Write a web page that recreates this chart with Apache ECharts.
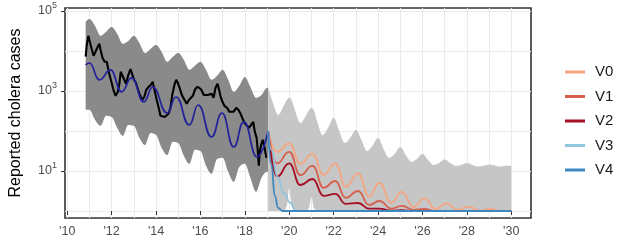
<!DOCTYPE html>
<html><head><meta charset="utf-8">
<script src="https://cdn.jsdelivr.net/npm/echarts@6/dist/echarts.min.js"></script>
<style>html,body{margin:0;padding:0;background:#fff}#c{width:621px;height:244px}</style>
</head><body><div id="c"></div>
<script>
// All case values are stored as log10(reported cholera cases)
const xTickYears = [2010, 2012, 2014, 2016, 2018, 2020, 2022, 2024, 2026, 2028, 2030];
const xGridYears = [2010,2011,2012,2013,2014,2015,2016,2017,2018,2019,2020,2021,2022,2023,2024,2025,2026,2027,2028,2029,2030];
const yTickExp = [1, 3, 5];
const yGridExp = [0, 1, 2, 3, 4, 5];

// Fitted period: 95% band
const darkYears = [2010.83, 2011.0, 2011.25, 2011.5, 2011.75, 2012.0, 2012.25, 2012.5, 2012.75, 2013.0, 2013.25, 2013.5, 2013.75, 2014.0, 2014.25, 2014.5, 2014.75, 2015.0, 2015.25, 2015.5, 2015.75, 2016.0, 2016.25, 2016.5, 2016.75, 2017.0, 2017.25, 2017.5, 2017.75, 2018.0, 2018.25, 2018.5, 2018.75, 2019.0, 2019.05];
const darkUpper = [4.73, 4.80, 4.63, 4.38, 4.48, 4.60, 4.43, 4.18, 4.25, 4.38, 4.20, 3.95, 4.05, 4.15, 3.98, 3.73, 3.85, 3.95, 3.78, 3.53, 3.63, 3.73, 3.53, 3.28, 3.38, 3.53, 3.28, 2.98, 3.13, 3.35, 3.10, 2.83, 2.90, 3.08, 3.08];
const darkLower = [2.53, 2.53, 2.28, 2.13, 2.38, 2.35, 2.08, 1.88, 2.15, 2.13, 1.83, 1.65, 1.95, 1.90, 1.58, 1.40, 1.73, 1.70, 1.38, 1.18, 1.53, 1.50, 1.13, 0.93, 1.30, 1.33, 0.98, 0.73, 1.10, 1.18, 0.83, 0.48, 0.83, 0.98, 0.98];

// Projection period: band
const lightYears = [2019.05, 2019.25, 2019.5, 2019.75, 2019.9, 2020.0, 2020.1, 2020.25, 2020.5, 2020.75, 2020.9, 2021.0, 2021.1, 2021.25, 2021.5, 2021.75, 2022.0, 2022.25, 2022.5, 2022.75, 2023.0, 2023.25, 2023.5, 2023.75, 2024.0, 2024.25, 2024.5, 2024.75, 2025.0, 2025.25, 2025.5, 2025.75, 2026.0, 2026.25, 2026.5, 2026.75, 2027.0, 2027.25, 2027.5, 2027.75, 2028.0, 2028.25, 2028.5, 2028.75, 2029.0, 2029.25, 2029.5, 2029.75, 2030.0];
const lightUpper = [3.08, 2.73, 2.40, 2.63, 2.78, 2.83, 2.78, 2.53, 2.20, 2.38, 2.53, 2.58, 2.53, 2.25, 1.90, 2.08, 2.33, 2.00, 1.70, 1.83, 2.03, 1.78, 1.50, 1.63, 1.83, 1.55, 1.33, 1.43, 1.60, 1.40, 1.23, 1.30, 1.43, 1.28, 1.15, 1.20, 1.29, 1.20, 1.13, 1.15, 1.20, 1.15, 1.11, 1.13, 1.16, 1.14, 1.11, 1.13, 1.13];
const lightLower = [0, 0, 0, 0, 0.15, 0.58, 0.15, 0, 0, 0, 0.10, 0.35, 0.10, 0, 0, 0, 0, 0, 0, 0, 0, 0, 0, 0, 0, 0, 0, 0, 0, 0, 0, 0, 0, 0, 0, 0, 0, 0, 0, 0, 0, 0, 0, 0, 0, 0, 0, 0, 0];

// Observed reported cases
const obsYears = [2010.83, 2010.88, 2010.95, 2011.02, 2011.11, 2011.19, 2011.28, 2011.37, 2011.45, 2011.50, 2011.59, 2011.68, 2011.78, 2011.89, 2011.99, 2012.08, 2012.18, 2012.28, 2012.35, 2012.41, 2012.48, 2012.57, 2012.65, 2012.74, 2012.85, 2012.92, 2013.01, 2013.10, 2013.19, 2013.29, 2013.38, 2013.47, 2013.56, 2013.66, 2013.76, 2013.85, 2013.94, 2014.03, 2014.12, 2014.20, 2014.29, 2014.39, 2014.47, 2014.56, 2014.65, 2014.73, 2014.84, 2014.91, 2015.00, 2015.09, 2015.18, 2015.28, 2015.38, 2015.49, 2015.58, 2015.66, 2015.75, 2015.84, 2015.94, 2016.04, 2016.15, 2016.24, 2016.33, 2016.42, 2016.50, 2016.59, 2016.66, 2016.68, 2016.77, 2016.84, 2016.90, 2016.99, 2017.08, 2017.20, 2017.30, 2017.39, 2017.49, 2017.61, 2017.71, 2017.81, 2017.92, 2018.01, 2018.10, 2018.19, 2018.27, 2018.38, 2018.45, 2018.53, 2018.58, 2018.63, 2018.67, 2018.75, 2018.81, 2018.89, 2018.97];
const obsCases = [3.86, 4.15, 4.38, 4.33, 4.03, 3.88, 3.93, 4.10, 4.18, 4.03, 3.83, 3.73, 3.73, 3.43, 3.23, 3.03, 2.88, 2.98, 3.18, 3.48, 3.53, 3.28, 3.18, 3.38, 3.55, 3.50, 3.28, 3.20, 3.03, 2.88, 2.78, 2.85, 3.03, 3.10, 3.15, 3.23, 3.18, 2.78, 2.58, 2.38, 2.33, 2.35, 2.30, 2.43, 2.58, 2.90, 3.18, 3.28, 3.18, 3.03, 2.88, 2.78, 2.68, 2.78, 2.83, 2.88, 3.03, 3.10, 3.08, 3.03, 2.90, 2.85, 2.90, 2.88, 2.93, 2.83, 2.78, 3.08, 3.18, 3.03, 2.88, 2.73, 2.63, 2.58, 2.48, 2.43, 2.48, 2.58, 2.53, 2.43, 2.28, 2.18, 2.23, 2.08, 2.13, 2.23, 1.98, 1.83, 1.53, 1.13, 1.48, 1.68, 1.78, 1.58, 1.33];

// Model fit
const fitYears = [2010.83, 2011.0, 2011.45, 2011.95, 2012.45, 2012.9, 2013.45, 2013.85, 2014.5, 2014.9, 2015.5, 2015.9, 2016.5, 2016.97, 2017.5, 2017.95, 2018.55, 2019.05];
const fitCases = [3.65, 3.70, 3.28, 3.53, 2.98, 3.33, 2.73, 3.10, 2.45, 2.85, 2.15, 2.65, 1.85, 2.45, 1.60, 2.23, 1.35, 2.00];

// Vaccination scenarios
const v0Years = [2019.05, 2019.45, 2020.0, 2020.5, 2021.05, 2021.55, 2022.07, 2022.55, 2023.1, 2023.6, 2024.06, 2024.6, 2025.06, 2025.6, 2026.08, 2026.6, 2027.08, 2027.6, 2028.05, 2028.6, 2029.05, 2029.6, 2030.0];
const v0Cases = [2.00, 1.48, 1.69, 1.18, 1.43, 0.90, 1.19, 0.61, 0.94, 0.36, 0.70, 0.21, 0.48, 0.10, 0.32, 0.05, 0.19, 0.03, 0.11, 0.01, 0.05, 0, 0];
const v1Years = [2019.05, 2019.45, 2020.0, 2020.5, 2021.05, 2021.55, 2022.07, 2022.55, 2023.1, 2023.6, 2024.06, 2024.6, 2025.06, 2025.6, 2026.08, 2026.6, 2030.0];
const v1Cases = [2.00, 1.19, 1.48, 0.90, 1.13, 0.58, 0.75, 0.33, 0.50, 0.15, 0.25, 0.06, 0.13, 0.03, 0.05, 0, 0];
const v2Years = [2019.05, 2019.45, 2020.0, 2020.5, 2021.05, 2021.55, 2022.07, 2022.55, 2023.1, 2023.6, 2024.06, 2024.6, 2025.06, 2025.6, 2030.0];
const v2Cases = [2.00, 0.86, 1.19, 0.65, 0.80, 0.38, 0.43, 0.18, 0.20, 0.06, 0.06, 0.01, 0.02, 0, 0];
const v3Years = [2019.05, 2019.2, 2019.47, 2019.76, 2020.05, 2020.3, 2030.0];
const v3Cases = [2.00, 1.53, 0.85, 0.45, 0.20, 0, 0];
const v4Years = [2019.05, 2019.2, 2019.35, 2019.5, 2019.7, 2030.0];
const v4Cases = [2.00, 1.15, 0.38, 0.08, 0, 0];

const scenarioNames = ['V0', 'V1', 'V2', 'V3', 'V4'];
const scenarioColors = ['#F4A582', '#D6604D', '#A50F24', '#92C5DE', '#3F88BF'];

const FONT = '"Liberation Sans", Arial, Helvetica, sans-serif';
const pairs = (xs, ys) => xs.map((x, i) => [x, ys[i]]);

function monotonePts(P) {
  const n = P.length;
  if (n < 3) return P.slice();
  const h = [], s = [], t = new Array(n);
  for (let i = 0; i < n - 1; i++) { h[i] = P[i + 1][0] - P[i][0]; s[i] = (P[i + 1][1] - P[i][1]) / (h[i] || 1e-9); }
  for (let i = 1; i < n - 1; i++) {
    const p = (s[i - 1] * h[i] + s[i] * h[i - 1]) / (h[i - 1] + h[i]);
    t[i] = (Math.sign(s[i - 1]) + Math.sign(s[i])) * Math.min(Math.abs(s[i - 1]), Math.abs(s[i]), 0.5 * Math.abs(p)) || 0;
  }
  t[0] = (3 * s[0] - t[1]) / 2; t[n - 1] = (3 * s[n - 2] - t[n - 2]) / 2;
  const out = [P[0]];
  for (let i = 0; i < n - 1; i++) {
    const dx = h[i] / 3;
    const c1 = [P[i][0] + dx, P[i][1] + dx * t[i]], c2 = [P[i + 1][0] - dx, P[i + 1][1] - dx * t[i + 1]];
    for (let k = 1; k <= 10; k++) {
      const u = k / 10, v = 1 - u;
      out.push([v*v*v*P[i][0] + 3*v*v*u*c1[0] + 3*v*u*u*c2[0] + u*u*u*P[i+1][0],
                v*v*v*P[i][1] + 3*v*v*u*c1[1] + 3*v*u*u*c2[1] + u*u*u*P[i+1][1]]);
    }
  }
  return out;
}

function bandSeries(years, lo, hi, color) {
  return {
    type: 'custom', silent: true, z: 1,
    data: [[years[0], hi[0]]],
    renderItem: function (params, api) {
      const up = monotonePts(years.map((x, i) => api.coord([x, hi[i]])));
      const dn = monotonePts(years.map((x, i) => api.coord([x, lo[i]])));
      return { type: 'polygon', shape: { points: up.concat(dn.reverse()) }, style: { fill: color } };
    }
  };
}

function lineSeries(name, xs, ys, color, width, smooth) {
  return {
    name: name, type: 'line', data: pairs(xs, ys), symbol: 'none', z: 3,
    smooth: smooth ? 0.5 : false, smoothMonotone: smooth ? 'x' : undefined,
    color: color, lineStyle: { color: color, width: width }, silent: true
  };
}

const chart = echarts.init(document.getElementById('c'), null, { renderer: 'canvas' });
const xMin = 2009.9, xMax = 2030.89, yMin = -0.175, yMax = 5.075;
chart.setOption({
  animation: false,
  backgroundColor: '#ffffff',
  grid: { left: 57, right: 90, top: 8, bottom: 26, show: true, borderColor: '#333333', borderWidth: 1.6, backgroundColor: '#ffffff' },
  legend: {
    data: scenarioNames, orient: 'vertical', left: 565, top: 64.5, padding: 0,
    icon: 'rect', itemWidth: 20, itemHeight: 3, itemGap: 9.5,
    textStyle: { fontFamily: FONT, fontSize: 15, color: '#1a1a1a', lineHeight: 14, padding: [0, 0, 0, 5] }
  },
  xAxis: [
    { type: 'value', min: xMin, max: xMax, axisLine: { show: false },
      axisTick: { show: true, length: 4, customValues: xTickYears, lineStyle: { color: '#333333', width: 1 } },
      axisLabel: { customValues: xTickYears, margin: 7, fontFamily: FONT, fontSize: 12.5, color: '#4d4d4d',
        formatter: v => "'" + String(Math.round(v)).slice(2) },
      splitLine: { show: false } },
    { type: 'value', min: xMin, max: xMax, position: 'bottom', axisLine: { show: false },
      axisTick: { show: false, customValues: xGridYears }, axisLabel: { show: false },
      splitLine: { show: true, lineStyle: { color: '#ebebeb', width: 1 } } }
  ],
  yAxis: [
    { type: 'value', min: yMin, max: yMax, axisLine: { show: false },
      name: 'Reported cholera cases', nameLocation: 'middle', nameGap: 41,
      nameTextStyle: { fontFamily: FONT, fontSize: 16, color: '#000000' },
      axisTick: { show: true, length: 4, customValues: yTickExp, lineStyle: { color: '#333333', width: 1 } },
      axisLabel: { customValues: yTickExp, margin: 8,
        formatter: v => '{b|10}{s|' + Math.round(v) + '}',
        rich: { b: { fontFamily: FONT, fontSize: 12.5, color: '#4d4d4d', lineHeight: 20 },
                s: { fontFamily: FONT, fontSize: 9, color: '#4d4d4d', lineHeight: 8, verticalAlign: 'top' } } },
      splitLine: { show: false } },
    { type: 'value', min: yMin, max: yMax, position: 'left', axisLine: { show: false },
      axisTick: { show: false, customValues: yGridExp }, axisLabel: { show: false },
      splitLine: { show: true, lineStyle: { color: '#ebebeb', width: 1 } } }
  ],
  series: [
    bandSeries(darkYears, darkLower, darkUpper, '#8a8a8a'),
    bandSeries(lightYears, lightLower, lightUpper, '#c6c6c6'),
    lineSeries('Observed', obsYears, obsCases, '#000000', 2.1, false),
    lineSeries('Fit', fitYears, fitCases, '#22229a', 1.7, true),
    lineSeries('V0', v0Years, v0Cases, scenarioColors[0], 1.8, true),
    lineSeries('V1', v1Years, v1Cases, scenarioColors[1], 1.8, true),
    lineSeries('V2', v2Years, v2Cases, scenarioColors[2], 1.8, true),
    lineSeries('V3', v3Years, v3Cases, scenarioColors[3], 1.8, true),
    lineSeries('V4', v4Years, v4Cases, scenarioColors[4], 1.8, true)
  ]
});
</script>
</body></html>
